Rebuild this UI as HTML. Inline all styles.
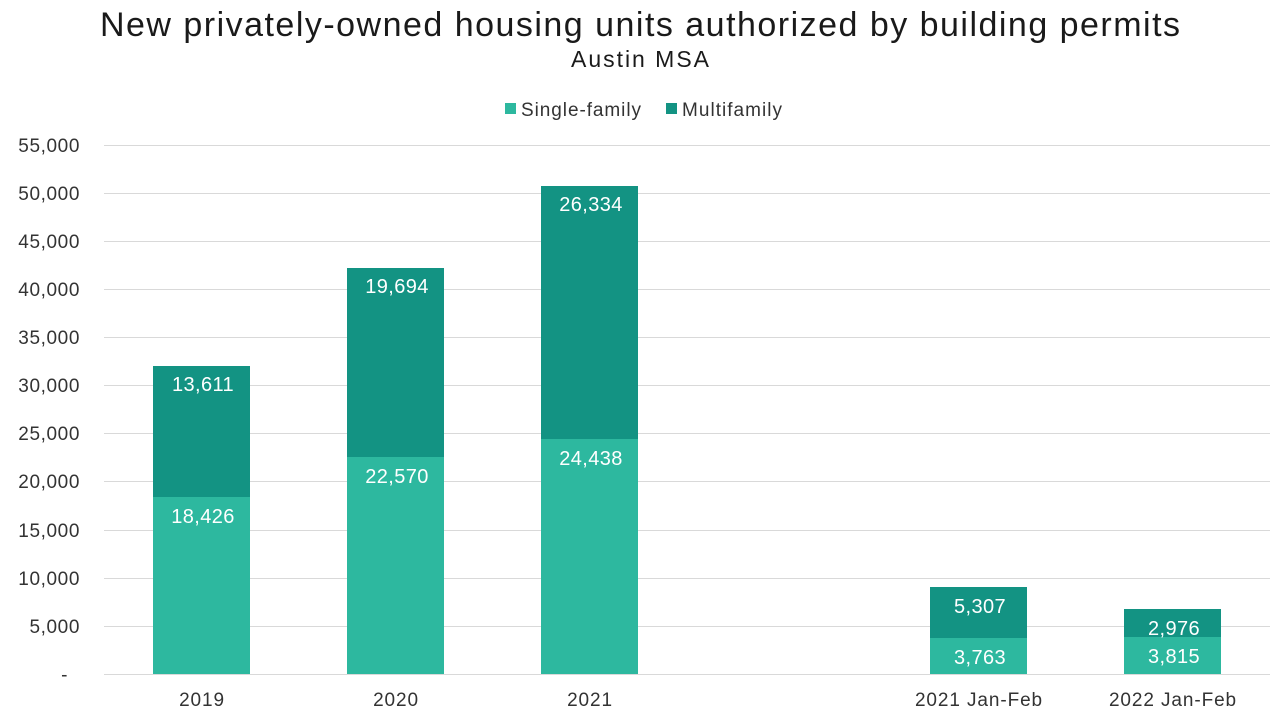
<!DOCTYPE html>
<html><head><meta charset="utf-8"><style>
body{margin:0;background:#fff;}
svg{display:block;font-family:"Liberation Sans",Arial,sans-serif;}
</style></head><body>
<svg width="1280" height="720" viewBox="0 0 1280 720">
<rect width="1280" height="720" fill="#fff"/>
<text x="640" y="36" text-anchor="middle" font-size="34" fill="#1a1a1a" textLength="1080" lengthAdjust="spacing">New privately-owned  housing units authorized  by building permits</text>
<text x="640" y="67" text-anchor="middle" font-size="23" fill="#1a1a1a" textLength="138" lengthAdjust="spacing">Austin MSA</text>
<rect x="505" y="103" width="11" height="11" fill="#2db89f"/>
<text x="521" y="116" font-size="19" fill="#333" textLength="120" lengthAdjust="spacing">Single-family</text>
<rect x="666" y="103" width="11" height="11" fill="#139383"/>
<text x="682" y="116" font-size="19" fill="#333" textLength="100" lengthAdjust="spacing">Multifamily</text>
<g stroke="#d9d9d9" stroke-width="1">
<line x1="104" x2="1270" y1="145.5" y2="145.5"/>
<line x1="104" x2="1270" y1="193.5" y2="193.5"/>
<line x1="104" x2="1270" y1="241.5" y2="241.5"/>
<line x1="104" x2="1270" y1="289.5" y2="289.5"/>
<line x1="104" x2="1270" y1="337.5" y2="337.5"/>
<line x1="104" x2="1270" y1="385.5" y2="385.5"/>
<line x1="104" x2="1270" y1="433.5" y2="433.5"/>
<line x1="104" x2="1270" y1="481.5" y2="481.5"/>
<line x1="104" x2="1270" y1="530.5" y2="530.5"/>
<line x1="104" x2="1270" y1="578.5" y2="578.5"/>
<line x1="104" x2="1270" y1="626.5" y2="626.5"/>
<line x1="104" x2="1270" y1="674.5" y2="674.5"/>
</g>
<g font-size="19" fill="#333" text-anchor="end" letter-spacing="0.6">
<text x="80" y="152">55,000</text><text x="80" y="200">50,000</text><text x="80" y="248">45,000</text>
<text x="80" y="296">40,000</text><text x="80" y="344">35,000</text><text x="80" y="392">30,000</text>
<text x="80" y="440">25,000</text><text x="80" y="488">20,000</text><text x="80" y="537">15,000</text>
<text x="80" y="585">10,000</text><text x="80" y="633">5,000</text><text x="68" y="681">-</text>
</g>
<g fill="#2db89f">
<rect x="153" y="497" width="97" height="177"/>
<rect x="347" y="457" width="97" height="217"/>
<rect x="541" y="439" width="97" height="235"/>
<rect x="930" y="638" width="97" height="36"/>
<rect x="1124" y="637" width="97" height="37"/>
</g>
<g fill="#139383">
<rect x="153" y="366" width="97" height="131"/>
<rect x="347" y="268" width="97" height="189"/>
<rect x="541" y="186" width="97" height="253"/>
<rect x="930" y="587" width="97" height="51"/>
<rect x="1124" y="609" width="97" height="28"/>
</g>
<g font-size="20" fill="#fff" text-anchor="middle" letter-spacing="0.4">
<text x="203" y="391">13,611</text><text x="203" y="523">18,426</text>
<text x="397" y="293">19,694</text><text x="397" y="483">22,570</text>
<text x="591" y="211">26,334</text><text x="591" y="465">24,438</text>
<text x="980" y="613">5,307</text><text x="980" y="664">3,763</text>
<text x="1174" y="635">2,976</text><text x="1174" y="663">3,815</text>
</g>
<g font-size="19" fill="#333" text-anchor="middle" letter-spacing="0.9">
<text x="202" y="706">2019</text><text x="396" y="706">2020</text><text x="590" y="706">2021</text>
<text x="979" y="706">2021 Jan-Feb</text><text x="1173" y="706">2022 Jan-Feb</text>
</g>
</svg>
</body></html>
